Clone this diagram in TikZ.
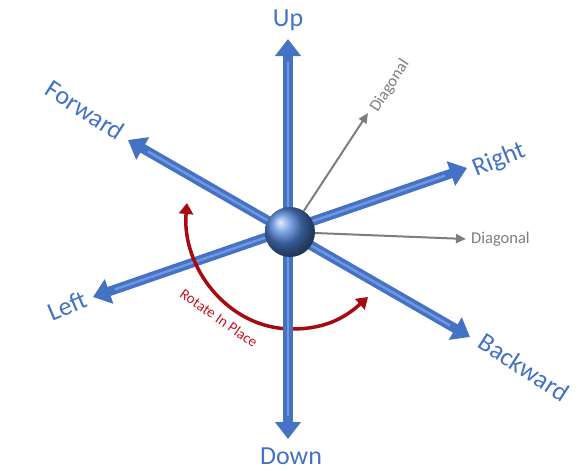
\documentclass[tikz,border=0pt]{standalone}
\usepackage{fontspec}
\setmainfont{Carlito}
\usetikzlibrary{arrows.meta}

\definecolor{axisblue}{RGB}{68,114,196}
\definecolor{axislight}{RGB}{112,150,222}
\definecolor{ballblue}{RGB}{78,128,212}
\definecolor{diaggray}{RGB}{125,125,125}
\definecolor{turnred}{RGB}{165,10,15}
\definecolor{turntext}{RGB}{200,20,35}

\tikzset{
  axis/.style={line width=9.5pt, axisblue,
    {Triangle[length=17pt,width=25pt]}-{Triangle[length=17pt,width=25pt]}},
  axisshine/.style={line width=2.5pt, axislight, shorten <=23pt, shorten >=23pt},
  diag/.style={line width=2pt, diaggray, -{Triangle[length=10pt,width=9pt]}},
  dirlabel/.style={text=axisblue, inner sep=0pt, font=\fontsize{26}{30}\selectfont},
  diaglabel/.style={text=diaggray, inner sep=0pt, font=\fontsize{16.5}{19}\selectfont},
  turnlabel/.style={text=turntext, inner sep=0pt, font=\fontsize{15}{18}\selectfont},
  turn/.style={line width=3.5pt, turnred,
    {Triangle[length=11pt,width=14pt]}-{Triangle[length=11pt,width=14pt]}},
}

\begin{document}
\begin{tikzpicture}[x=1pt,y=1pt]
\useasboundingbox (0,0) rectangle (579,-471);

% axis tips
\coordinate (up) at (288,-39);
\coordinate (down) at (288,-439);
\coordinate (fwd) at (128,-140);
\coordinate (bwd) at (470,-337);
\coordinate (lft) at (93,-297);
\coordinate (rgt) at (467,-168);
\coordinate (dg1) at (368,-113);
\coordinate (dg2) at (466,-239);

% turning arrow
\coordinate (turnstart) at (187,-203);
\coordinate (turnlow) at (292,-329);
\coordinate (turnend) at (368,-297);

\draw[axis] (lft) -- (rgt);
\draw[axisshine] (lft) -- (rgt);
\draw[axis] (fwd) -- (bwd);
\draw[axisshine] (fwd) -- (bwd);

\draw[turn] (turnstart) to[out=-95, in=180] (turnlow)
  to[out=0, in=222] (turnend);

\draw[axis] (down) -- (up);
\draw[axisshine] (down) -- (up);

\node[circle, minimum size=50pt, inner sep=0pt, shading=ball,
  ball color=ballblue] (c) at (290,-232) {};

\draw[diag] (c) -- (dg1);
\draw[diag] (c) -- (dg2);

% labels
\node[dirlabel] (uplbl) at (288,-20) {Up};
\node[dirlabel] (downlbl) at (291,-456) {Down};
\node[dirlabel, rotate=-33] (fwdlbl) at (85,-110) {Forward};
\node[dirlabel, rotate=-33] (bwdlbl) at (524,-367) {Backward};
\node[dirlabel, rotate=23] (leftlbl) at (67,-306) {Left};
\node[dirlabel, rotate=22] (rightlbl) at (499,-160) {Right};
\node[diaglabel, rotate=57] (dglbl1) at (390,-86) {Diagonal};
\node[diaglabel, anchor=west] (dglbl2) at (471,-239) {Diagonal};
\node[turnlabel, rotate=-35] (turnlbl) at (219,-318) {Rotate In Place};

\end{tikzpicture}
\end{document}
